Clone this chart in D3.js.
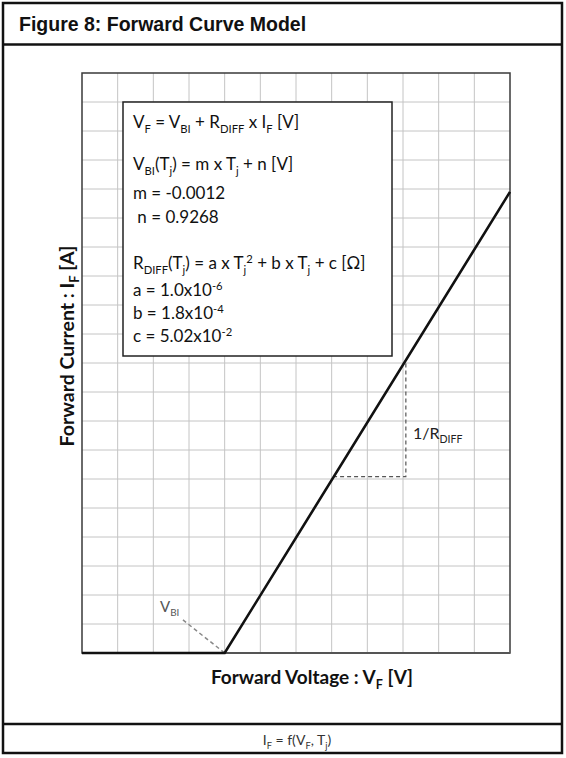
<!DOCTYPE html>
<html>
<head>
<meta charset="utf-8">
<script src="https://cdn.jsdelivr.net/npm/d3@7"></script>
<style>
  body { margin: 0; background: #fff; }
  svg { display: block; }
</style>
</head>
<body>
<svg id="fig" width="566" height="758"></svg>
<script>
// forward curve model, drawn on a 12 x 20 grid

var gridCols = 12,
    gridRows = 20;

// piecewise forward curve, in grid units
var curveV = [0, 4, 12];
var curveI = [0, 0, 15.9];

// dashed helpers
var vbiLeaderV = [2.83, 4];
var vbiLeaderI = [1.14, 0];
var rdiffV = [7.04, 9.08, 9.08];
var rdiffI = [6.08, 6.08, 10.1];

// model text, parts are [text, "", "sub" or "sup"]
var boxLines = [
  { y: 128, parts: [["V"], ["F", "sub"], [" = V"], ["BI", "sub"], [" + R"], ["DIFF", "sub"], [" x I"], ["F", "sub"], [" [V]"]] },
  { y: 170, parts: [["V"], ["BI", "sub"], ["(T"], ["j", "sub"], [") = m x T"], ["j", "sub"], [" + n [V]"]] },
  { y: 199, parts: [["m = -0.0012"]] },
  { y: 223, parts: [["\u00a0n = 0.9268"]] },
  { y: 269, parts: [["R"], ["DIFF", "sub"], ["(T"], ["j", "sub"], [") = a x T"], ["j", "sub"], ["2", "sup"], [" + b x T"], ["j", "sub"], [" + c [\u03a9]"]] },
  { y: 296, parts: [["a = 1.0x10"], ["-6", "sup"]] },
  { y: 319, parts: [["b = 1.8x10"], ["-4", "sup"]] },
  { y: 342, parts: [["c = 5.02x10"], ["-2", "sup"]] }
];

var svg = d3.select("#fig"),
    width = +svg.attr("width"),
    height = +svg.attr("height");

var x = d3.scaleLinear().domain([0, gridCols]).range([82, 510]);
var y = d3.scaleLinear().domain([0, gridRows]).range([653, 73]);

function rich(sel, parts, size) {
    var shift = 0;
    parts.forEach(function (p) {
        var mode = p[1] || "";
        var target = mode == "sub" ? size * 0.28 : mode == "sup" ? -size * 0.38 : 0;
        sel.append("tspan")
            .attr("dy", target - shift)
            .attr("font-size", mode ? size * 0.66 : size)
            .text(p[0]);
        shift = target;
    });
}

// outer frame
svg.append("rect")
    .attr("x", 3).attr("y", 3)
    .attr("width", 559).attr("height", 750)
    .attr("fill", "none")
    .attr("stroke", "#111")
    .attr("stroke-width", 2.5);

svg.append("line")
    .attr("x1", 3).attr("x2", 562)
    .attr("y1", 44.5).attr("y2", 44.5)
    .attr("stroke", "#111").attr("stroke-width", 2.5);

svg.append("line")
    .attr("x1", 3).attr("x2", 562)
    .attr("y1", 724).attr("y2", 724)
    .attr("stroke", "#111").attr("stroke-width", 2.5);

svg.append("text")
    .attr("x", 19).attr("y", 31)
    .attr("font-family", "Liberation Sans, Arial, sans-serif")
    .attr("font-weight", "bold")
    .attr("font-size", 19.5)
    .attr("fill", "#111")
    .text("Figure 8: Forward Curve Model");

// grid
var grid = svg.append("g").attr("stroke", "#c4c4c4").attr("stroke-width", 1);

grid.selectAll(".gv")
    .data(d3.range(1, gridCols))
    .enter().append("line")
    .attr("x1", function (d) { return x(d); })
    .attr("x2", function (d) { return x(d); })
    .attr("y1", y(0)).attr("y2", y(gridRows));

grid.selectAll(".gh")
    .data(d3.range(1, gridRows))
    .enter().append("line")
    .attr("y1", function (d) { return y(d); })
    .attr("y2", function (d) { return y(d); })
    .attr("x1", x(0)).attr("x2", x(gridCols));

// plot border
svg.append("rect")
    .attr("x", x(0)).attr("y", y(gridRows))
    .attr("width", x(gridCols) - x(0))
    .attr("height", y(0) - y(gridRows))
    .attr("fill", "none")
    .attr("stroke", "#3a3a3a")
    .attr("stroke-width", 1.5);

svg.append("line")
    .attr("x1", x(0)).attr("x2", x(gridCols))
    .attr("y1", y(0)).attr("y2", y(0))
    .attr("stroke", "#555").attr("stroke-width", 2);

// text box
svg.append("rect")
    .attr("x", 123).attr("y", 102)
    .attr("width", 269).attr("height", 254)
    .attr("fill", "#fff")
    .attr("stroke", "#222")
    .attr("stroke-width", 1.5);

boxLines.forEach(function (l) {
    var t = svg.append("text")
        .attr("x", 133).attr("y", l.y)
        .attr("font-family", "Lato, sans-serif")
        .attr("fill", "#111");
    rich(t, l.parts, 17);
});

// dashed helpers
var line = d3.line()
    .x(function (d) { return x(d[0]); })
    .y(function (d) { return y(d[1]); });

svg.append("path")
    .attr("d", line(d3.zip(vbiLeaderV, vbiLeaderI)))
    .attr("fill", "none")
    .attr("stroke", "#888")
    .attr("stroke-width", 1.5)
    .attr("stroke-dasharray", "4,3");

svg.append("path")
    .attr("d", line(d3.zip(rdiffV, rdiffI)))
    .attr("fill", "none")
    .attr("stroke", "#555")
    .attr("stroke-width", 1.2)
    .attr("stroke-dasharray", "4,3");

// curve
svg.append("path")
    .attr("d", line(d3.zip(curveV, curveI)))
    .attr("fill", "none")
    .attr("stroke", "#111")
    .attr("stroke-width", 2.6);

// labels on the plot
var vbi = svg.append("text")
    .attr("x", 160).attr("y", 612)
    .attr("font-family", "Lato, sans-serif")
    .attr("fill", "#555");
rich(vbi, [["V"], ["BI", "sub"]], 15);

var rd = svg.append("text")
    .attr("x", 413).attr("y", 439)
    .attr("font-family", "Lato, sans-serif")
    .attr("fill", "#222");
rich(rd, [["1/R"], ["DIFF", "sub"]], 16);

// axis titles
var xt = svg.append("text")
    .attr("x", 312).attr("y", 684)
    .attr("text-anchor", "middle")
    .attr("font-family", "Lato, sans-serif")
    .attr("font-weight", "bold")
    .attr("fill", "#111");
rich(xt, [["Forward Voltage : V"], ["F", "sub"], [" [V]"]], 19);

var yt = svg.append("text")
    .attr("transform", "translate(74,346) rotate(-90)")
    .attr("text-anchor", "middle")
    .attr("font-family", "Lato, sans-serif")
    .attr("font-weight", "bold")
    .attr("fill", "#111");
rich(yt, [["Forward Current : I"], ["F", "sub"], [" [A]"]], 19.5);

// footer
var ft = svg.append("text")
    .attr("x", 297).attr("y", 745)
    .attr("text-anchor", "middle")
    .attr("font-family", "Lato, sans-serif")
    .attr("fill", "#333");
rich(ft, [["I"], ["F", "sub"], [" = f(V"], ["F", "sub"], [", T"], ["j", "sub"], [")"]], 14);
</script>
</body>
</html>
